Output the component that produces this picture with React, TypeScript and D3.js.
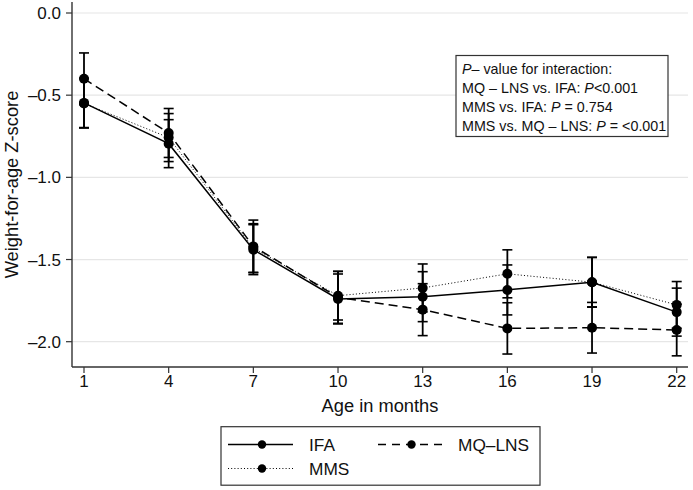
import React from "react";
import * as d3 from "d3";

const months = [1, 4, 7, 10, 13, 16, 19, 22];
const yTicks = [0, -0.5, -1, -1.5, -2];
const yTickLabels = ["0.0", "–0.5", "–1.0", "–1.5", "–2.0"];

const ifaMean = [-0.547, -0.795, -1.44, -1.74, -1.726, -1.685, -1.638, -1.82];
const ifaCI = [0.15, 0.146, 0.152, 0.152, 0.152, 0.152, 0.152, 0.146];
const mqMean = [-0.4, -0.73, -1.42, -1.73, -1.805, -1.919, -1.915, -1.929];
const mqCI = [0.157, 0.149, 0.16, 0.158, 0.158, 0.156, 0.154, 0.157];
const mmsMean = [-0.55, -0.758, -1.43, -1.72, -1.673, -1.587, -1.638, -1.776];
const mmsCI = [0.15, 0.146, 0.148, 0.148, 0.146, 0.146, 0.15, 0.142];

const seriesNames = ["IFA", "MQ–LNS", "MMS"];

const W = 693;
const H = 490;
const FONT = "'Liberation Sans', Arial, Helvetica, sans-serif";

const plotLeft = 72;
const plotRight = 688;
const plotTop = 2;
const plotBottom = 367;

const x = d3.scaleLinear().domain([1, 22]).range([84, 676.7]);
const y = d3.scaleLinear().domain([0, -2]).range([13, 341.7]);

const styles = [
  { dash: "none", width: 1.5 },
  { dash: "9,5", width: 1.5 },
  { dash: "1,2.2", width: 1 },
];

export default function App() {
  const series = [
    { mean: ifaMean, ci: ifaCI },
    { mean: mqMean, ci: mqCI },
    { mean: mmsMean, ci: mmsCI },
  ];
  const line = d3
    .line<number>()
    .x((_, i) => x(months[i]))
    .y((d) => y(d));

  const drawOrder = [2, 1, 0];

  return (
    <svg
      width={W}
      height={H}
      style={{ position: "absolute", left: 0, top: 0, background: "#fff" }}
      fontFamily={FONT}
    >
      <rect x={0} y={0} width={W} height={H} fill="#fff" />
      {/* gridlines */}
      {yTicks.map((t) => (
        <line
          key={"g" + t}
          x1={plotLeft}
          x2={plotRight}
          y1={y(t)}
          y2={y(t)}
          stroke="#e6e6e6"
          strokeWidth={1.2}
        />
      ))}
      {/* lines */}
      {drawOrder.map((si) => (
        <path
          key={"l" + si}
          d={line(series[si].mean) || ""}
          fill="none"
          stroke="#000"
          strokeWidth={styles[si].width}
          strokeDasharray={styles[si].dash}
        />
      ))}
      {/* error bars */}
      {drawOrder.map((si) =>
        series[si].mean.map((m, i) => {
          const cx = x(months[i]);
          const lo = y(m - series[si].ci[i]);
          const hi = y(m + series[si].ci[i]);
          return (
            <g key={"e" + si + "-" + i} stroke="#000">
              <line x1={cx} x2={cx} y1={lo} y2={hi} strokeWidth={1.8} />
              <line x1={cx - 5} x2={cx + 5} y1={lo} y2={lo} strokeWidth={1.6} />
              <line x1={cx - 5} x2={cx + 5} y1={hi} y2={hi} strokeWidth={1.6} />
            </g>
          );
        })
      )}
      {/* markers */}
      {drawOrder.map((si) =>
        series[si].mean.map((m, i) => (
          <circle key={"c" + si + "-" + i} cx={x(months[i])} cy={y(m)} r={5} fill="#000" />
        ))
      )}
      {/* axes */}
      <line x1={plotLeft} x2={plotLeft} y1={plotTop} y2={plotBottom} stroke="#333" strokeWidth={1.4} />
      <line x1={plotLeft} x2={plotRight} y1={plotBottom} y2={plotBottom} stroke="#333" strokeWidth={1.4} />
      {yTicks.map((t, i) => (
        <g key={"yt" + t}>
          <line x1={plotLeft - 6} x2={plotLeft} y1={y(t)} y2={y(t)} stroke="#333" strokeWidth={1.2} />
          <text
            x={plotLeft - 11}
            y={y(t)}
            dy="0.36em"
            textAnchor="end"
            fontSize={17}
            fill="#111"
          >
            {yTickLabels[i]}
          </text>
        </g>
      ))}
      {months.map((m) => (
        <g key={"xt" + m}>
          <line x1={x(m)} x2={x(m)} y1={plotBottom} y2={plotBottom + 6} stroke="#333" strokeWidth={1.2} />
          <text x={x(m)} y={plotBottom + 20} textAnchor="middle" fontSize={17} fill="#111">
            {m}
          </text>
        </g>
      ))}
      <text x={(plotLeft + plotRight) / 2} y={412} textAnchor="middle" fontSize={18.3} fill="#111">
        Age in months
      </text>
      <text
        transform={`translate(18,${(plotTop + plotBottom) / 2}) rotate(-90)`}
        textAnchor="middle"
        fontSize={18.3}
        fill="#111"
      >
        Weight-for-age Z-score
      </text>
      {/* annotation box */}
      <rect x={456} y={55.5} width={212} height={81} fill="#fff" stroke="#333" strokeWidth={1.2} />
      <g fontSize={14.3} fill="#111">
        <text x={462} y={73.5}>
          <tspan fontStyle="italic">P</tspan>
          <tspan>– value for interaction:</tspan>
        </text>
        <text x={462} y={92.5}>
          <tspan>MQ – LNS vs. IFA: </tspan>
          <tspan fontStyle="italic">P</tspan>
          <tspan>&lt;0.001</tspan>
        </text>
        <text x={462} y={112}>
          <tspan>MMS vs. IFA: </tspan>
          <tspan fontStyle="italic">P</tspan>
          <tspan> = 0.754</tspan>
        </text>
        <text x={462} y={131}>
          <tspan>MMS vs. MQ – LNS: </tspan>
          <tspan fontStyle="italic">P</tspan>
          <tspan> = &lt;0.001</tspan>
        </text>
      </g>
      {/* legend */}
      <rect x={221} y={426.7} width={319} height={58.5} fill="#fff" stroke="#333" strokeWidth={1.2} />
      {[
        { si: 0, x0: 228, x1: 293, mx: 262, tx: 309, cy: 444.5 },
        { si: 1, x0: 378, x1: 447, mx: 411.5, tx: 458, cy: 444.5 },
        { si: 2, x0: 228, x1: 293, mx: 262, tx: 309, cy: 468.5 },
      ].map((it) => (
        <g key={"lg" + it.si}>
          <line
            x1={it.x0}
            x2={it.x1}
            y1={it.cy}
            y2={it.cy}
            stroke="#000"
            strokeWidth={styles[it.si].width}
            strokeDasharray={styles[it.si].dash === "9,5" ? "8,6" : styles[it.si].dash}
          />
          <circle cx={it.mx} cy={it.cy} r={4.2} fill="#000" />
          <text x={it.tx} y={it.cy} dy="0.36em" fontSize={17.3} fill="#111">
            {seriesNames[it.si]}
          </text>
        </g>
      ))}
    </svg>
  );
}
